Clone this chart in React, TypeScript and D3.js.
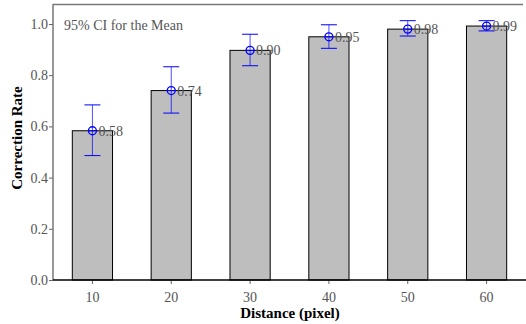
import React, { useEffect, useRef } from 'react';
import * as d3 from 'd3';

const distances = ['10', '20', '30', '40', '50', '60'];
const means = [0.583, 0.74, 0.897, 0.95, 0.98, 0.992];
const ciLow = [0.486, 0.652, 0.837, 0.905, 0.953, 0.973];
const ciHigh = [0.684, 0.833, 0.96, 0.997, 1.013, 1.013];
const meanLabels = ['0.58', '0.74', '0.90', '0.95', '0.98', '0.99'];
const yTicks = [0, 0.2, 0.4, 0.6, 0.8, 1.0];

const App = () => {
  const svgRef = useRef<SVGSVGElement>(null);

  useEffect(() => {
    const W = 526;
    const H = 324;
    const margin = { top: 4, right: 0, bottom: 44, left: 53 };
    const font = '"Liberation Serif", "DejaVu Serif", serif';

    const svg = d3.select(svgRef.current).attr('width', W).attr('height', H);
    svg.selectAll('*').remove();

    const x = d3.scaleBand()
      .domain(distances)
      .range([margin.left, W - margin.right])
      .padding(0);

    const y = d3.scaleLinear()
      .domain([0, 1])
      .range([280, 24]);

    const barW = x.bandwidth() * 0.51;
    const cx = (d: string) => (x(d) as number) + x.bandwidth() / 2;

    // bars
    svg.append('g')
      .selectAll('rect')
      .data(distances)
      .enter()
      .append('rect')
      .attr('x', d => cx(d) - barW / 2)
      .attr('y', (d, i) => y(means[i]))
      .attr('width', barW)
      .attr('height', (d, i) => y(0) - y(means[i]))
      .attr('fill', '#bebebe')
      .attr('stroke', '#000')
      .attr('stroke-width', 1);

    // frame lines
    svg.append('line')
      .attr('x1', margin.left).attr('x2', 523)
      .attr('y1', 4.5).attr('y2', 4.5)
      .attr('stroke', '#777').attr('stroke-width', 1.5);
    svg.append('line')
      .attr('x1', margin.left).attr('x2', margin.left)
      .attr('y1', 4).attr('y2', 280)
      .attr('stroke', '#777').attr('stroke-width', 1.5);

    // y axis
    const yAxis = svg.append('g')
      .attr('transform', `translate(${margin.left},0)`)
      .attr('font-family', font)
      .call(d3.axisLeft(y).tickValues(yTicks).tickFormat(d3.format('.1f')).tickSize(4).tickSizeOuter(0));
    yAxis.attr('font-family', font).attr('font-size', 14);
    yAxis.select('.domain').remove();
    yAxis.selectAll('line').attr('stroke', '#666');
    yAxis.selectAll('text')
      .attr('fill', '#555')
      .attr('dx', 2);

    // x axis
    const xAxis = svg.append('g')
      .attr('transform', `translate(0,280)`)
      .call(d3.axisBottom(x).tickSize(4).tickSizeOuter(0));
    xAxis.attr('font-family', font).attr('font-size', 14);
    xAxis.select('.domain').remove();
    xAxis.selectAll('line').attr('stroke', '#666');
    xAxis.selectAll('text')
      .attr('fill', '#555')
      .attr('dy', '1.1em');
    svg.append('line')
      .attr('x1', margin.left).attr('x2', W)
      .attr('y1', 280).attr('y2', 280)
      .attr('stroke', '#000').attr('stroke-width', 1.5);

    // error bars
    const eb = svg.append('g').attr('stroke', '#0000ff').attr('fill', 'none');
    distances.forEach((d, i) => {
      const px = cx(d);
      eb.append('line')
        .attr('x1', px).attr('x2', px)
        .attr('y1', y(ciLow[i])).attr('y2', y(ciHigh[i]))
        .attr('stroke-opacity', 0.7);
      eb.append('line')
        .attr('x1', px - 8).attr('x2', px + 8)
        .attr('y1', y(ciLow[i])).attr('y2', y(ciLow[i]));
      eb.append('line')
        .attr('x1', px - 8).attr('x2', px + 8)
        .attr('y1', y(ciHigh[i])).attr('y2', y(ciHigh[i]));
      eb.append('circle')
        .attr('cx', px).attr('cy', y(means[i])).attr('r', 4)
        .attr('stroke-width', 1.3);
      eb.append('line')
        .attr('x1', px - 4).attr('x2', px + 4)
        .attr('y1', y(means[i])).attr('y2', y(means[i]));
      svg.append('text')
        .attr('x', px + 6)
        .attr('y', y(means[i]) + 5)
        .attr('fill', '#555')
        .attr('font-family', font)
        .attr('font-size', 14)
        .text(meanLabels[i]);
    });

    // annotation
    svg.append('text')
      .attr('x', 64).attr('y', 30)
      .attr('fill', '#555')
      .attr('font-family', font)
      .attr('font-size', 14)
      .text('95% CI for the Mean');

    // axis titles
    svg.append('text')
      .attr('x', 290).attr('y', 318)
      .attr('text-anchor', 'middle')
      .attr('font-family', font)
      .attr('font-weight', 'bold')
      .attr('font-size', 15)
      .text('Distance (pixel)');
    svg.append('text')
      .attr('transform', 'translate(22,138) rotate(-90)')
      .attr('text-anchor', 'middle')
      .attr('font-family', font)
      .attr('font-weight', 'bold')
      .attr('font-size', 15)
      .text('Correction Rate');
  }, []);

  return <svg ref={svgRef} style={{ position: 'absolute', left: 0, top: 0 }}></svg>;
};

export default App;
